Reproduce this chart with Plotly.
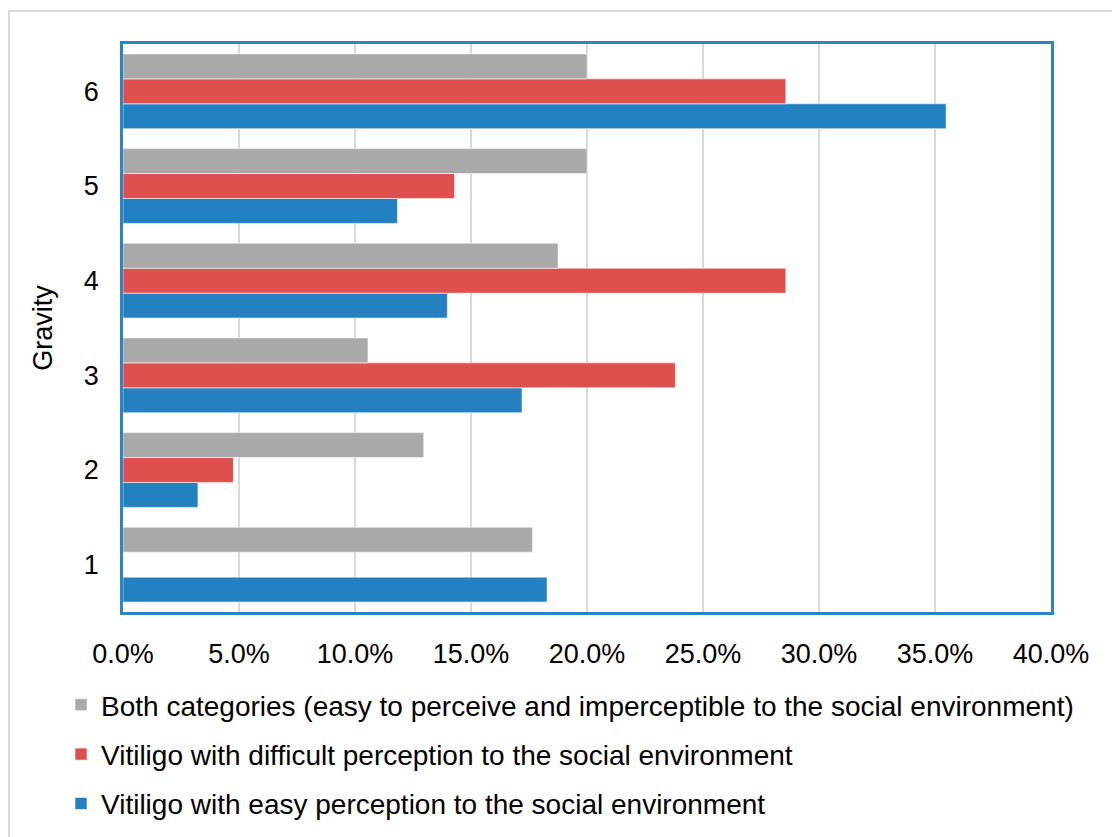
import plotly.graph_objects as go

categories = ["1", "2", "3", "4", "5", "6"]
both_categories = [17.65, 12.96, 10.56, 18.75, 20.0, 20.0]
difficult_perception = [0.0, 4.76, 23.81, 28.57, 14.29, 28.57]
easy_perception = [18.28, 3.23, 17.20, 13.98, 11.83, 35.48]

series_names = [
    "Both categories (easy to perceive and imperceptible to the social environment)",
    "Vitiligo with difficult perception to the social environment",
    "Vitiligo with easy perception to the social environment",
]
x_ticks = [0, 5, 10, 15, 20, 25, 30, 35, 40]
x_tick_labels = ["0.0%", "5.0%", "10.0%", "15.0%", "20.0%", "25.0%", "30.0%", "35.0%", "40.0%"]

GRAY = "#A9A9A9"
RED = "#DE504E"
BLUE = "#2481C1"
FONT = "Liberation Sans, Arial, sans-serif"

fig = go.Figure()
# plotly places the first trace at the bottom of each group -> add blue, red, gray
for vals, name, color, rank in [
    (easy_perception, series_names[2], BLUE, 3),
    (difficult_perception, series_names[1], RED, 2),
    (both_categories, series_names[0], GRAY, 1),
]:
    fig.add_trace(go.Bar(
        y=categories, x=vals, name=name, orientation="h",
        marker=dict(color=color, line=dict(color="rgba(255,255,255,0.55)", width=1)),
        legendgroup=name, legendrank=rank,
    ))

W, H = 1112, 837
L, R, T, B = 123, W - 1051, 44, H - 612
pw, ph = W - L - R, H - T - B

def px_x(p):
    return (p - L) / pw

def px_y(p):
    return (H - B - p) / ph

fig.update_layout(
    width=W, height=H,
    margin=dict(l=L, r=R, t=T, b=B, autoexpand=False),
    paper_bgcolor="white", plot_bgcolor="white",
    barmode="group", bargap=0.21, bargroupgap=0,
    font=dict(family=FONT, size=27, color="#000000"),
    showlegend=True,
    legend=dict(
        orientation="v", traceorder="grouped", tracegroupgap=10,
        x=px_x(61), xanchor="left", y=px_y(680), yanchor="top",
        font=dict(family=FONT, size=28, color="#000000"),
        bgcolor="rgba(0,0,0,0)", itemclick=False,
    ),
    xaxis=dict(
        range=[0, 40], tickvals=x_ticks, ticktext=x_tick_labels,
        showgrid=True, gridcolor="#D9D9D9", gridwidth=2,
        zeroline=False, showline=True, linecolor="#2A84C6", linewidth=2.5, mirror=True,
        ticks="", ticklabelstandoff=16,
        tickfont=dict(family=FONT, size=27, color="#000000"),
        fixedrange=True,
    ),
    yaxis=dict(
        type="category", categoryorder="array", categoryarray=categories,
        showgrid=False, zeroline=False,
        showline=True, linecolor="#2A84C6", linewidth=2.5, mirror=True,
        ticks="", ticklabelstandoff=16,
        tickfont=dict(family=FONT, size=27, color="#000000"),
        title=dict(text="Gravity", font=dict(family=FONT, size=27, color="#000000"), standoff=24),
        fixedrange=True,
    ),
    shapes=[dict(
        type="rect", xref="paper", yref="paper",
        x0=px_x(9), y0=px_y(850), x1=px_x(1125), y1=px_y(11),
        line=dict(color="#D9D9D9", width=2), fillcolor="rgba(0,0,0,0)", layer="below",
    )],
)

fig.write_html("out.html")
